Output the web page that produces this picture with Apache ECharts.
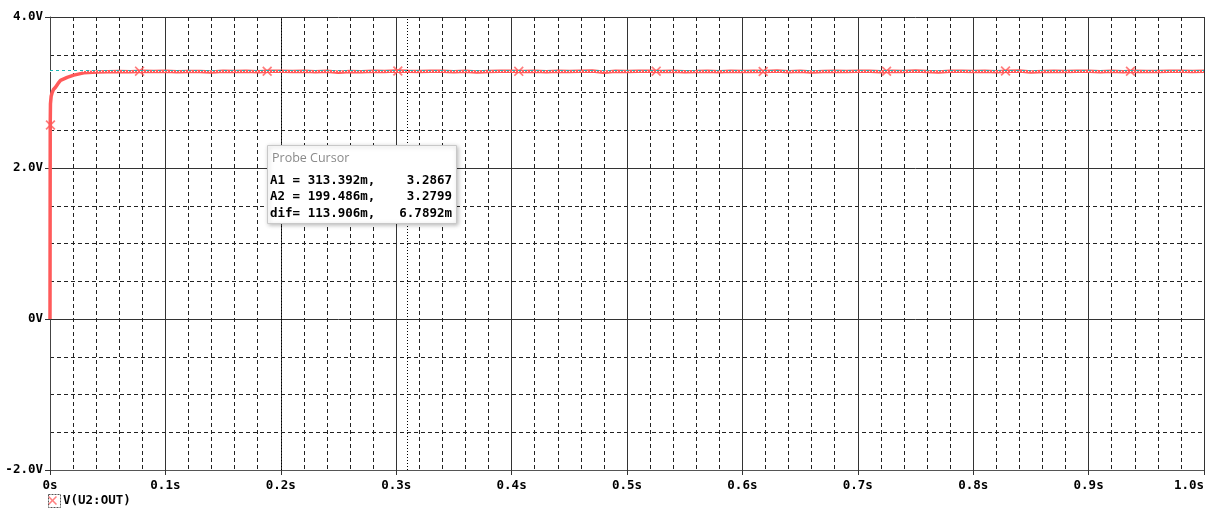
<!DOCTYPE html>
<html>
<head>
<meta charset="utf-8">
<script src="https://cdn.jsdelivr.net/npm/echarts@6/dist/echarts.min.js"></script>
<style>
html,body{margin:0;padding:0;background:#fff;}
#chart{width:1216px;height:513px;}
</style>
</head>
<body>
<div id="chart"></div>
<script>
// ---- data ----
var seriesName = 'V(U2:OUT)';
var startTimes  = [0, 0.0002, 0.0004, 0.001, 0.0019, 0.003, 0.0048, 0.007, 0.0091, 0.012, 0.0149, 0.0206, 0.0293, 0.041];
var startValues = [0, 2.57, 2.85, 2.95, 3.00, 3.04, 3.07, 3.12, 3.16, 3.18, 3.20, 3.23, 3.26, 3.27];
var steadyTimes = [0.05, 0.06, 0.07, 0.08, 0.09, 0.10, 0.11, 0.12, 0.13, 0.14, 0.15, 0.16, 0.17, 0.18, 0.19, 0.20, 0.21, 0.22, 0.23, 0.24, 0.25,
                   0.26, 0.27, 0.28, 0.29, 0.30, 0.31, 0.32, 0.33, 0.34, 0.35, 0.36, 0.37, 0.38, 0.39, 0.40, 0.41, 0.42, 0.43, 0.44, 0.45,
                   0.46, 0.47, 0.48, 0.49, 0.50, 0.51, 0.52, 0.53, 0.54, 0.55, 0.56, 0.57, 0.58, 0.59, 0.60, 0.61, 0.62, 0.63, 0.64, 0.65,
                   0.66, 0.67, 0.68, 0.69, 0.70, 0.71, 0.72, 0.73, 0.74, 0.75, 0.76, 0.77, 0.78, 0.79, 0.80, 0.81, 0.82, 0.83, 0.84, 0.85,
                   0.86, 0.87, 0.88, 0.89, 0.90, 0.91, 0.92, 0.93, 0.94, 0.95, 0.96, 0.97, 0.98, 0.99, 1.00];
var steadyValues = [3.274, 3.278, 3.276, 3.283, 3.279, 3.281, 3.274, 3.279, 3.277, 3.270, 3.281, 3.277, 3.283, 3.276, 3.280, 3.282, 3.279, 3.283, 3.276, 3.281, 3.269,
                    3.279, 3.275, 3.282, 3.278, 3.284, 3.280, 3.277, 3.281, 3.283, 3.276, 3.280, 3.271, 3.279, 3.282, 3.281, 3.277, 3.283, 3.275, 3.280, 3.278,
                    3.281, 3.284, 3.268, 3.280, 3.279, 3.282, 3.283, 3.277, 3.281, 3.276, 3.279, 3.283, 3.274, 3.280, 3.277, 3.282, 3.279, 3.284, 3.276, 3.281,
                    3.272, 3.279, 3.282, 3.277, 3.280, 3.283, 3.276, 3.281, 3.279, 3.284, 3.278, 3.273, 3.280, 3.282, 3.279, 3.283, 3.276, 3.281, 3.284, 3.270,
                    3.279, 3.282, 3.277, 3.281, 3.283, 3.276, 3.280, 3.274, 3.282, 3.279, 3.277, 3.281, 3.283, 3.278, 3.281];
var markerTimes  = [0.0004, 0.0776, 0.1882, 0.3014, 0.4062, 0.5253, 0.6180, 0.7249, 0.8280, 0.9363];
var markerValues = [2.57, 3.283, 3.282, 3.284, 3.280, 3.283, 3.279, 3.281, 3.284, 3.282];
var xTickValues = [0, 0.1, 0.2, 0.3, 0.4, 0.5, 0.6, 0.7, 0.8, 0.9, 1.0];
var xTickLabels = ['0s', '0.1s', '0.2s', '0.3s', '0.4s', '0.5s', '0.6s', '0.7s', '0.8s', '0.9s', '1.0s'];
var yTickValues = [-2, 0, 2, 4];
var yTickLabels = ['-2.0V', '0V', '2.0V', '4.0V'];
var cursorA1 = [0.313392, 3.2867];
var cursorA2 = [0.199486, 3.2799];
var probeTitle = 'Probe Cursor';
var probeRows = [
  ['A1 = 313.392m,', '3.2867'],
  ['A2 = 199.486m,', '3.2799'],
  ['dif= 113.906m,', '6.7892m']
];

// ---- build ----
var traceData = [];
for (var i = 0; i < startTimes.length; i++) traceData.push([startTimes[i], startValues[i]]);
for (var j = 0; j < steadyTimes.length; j++) traceData.push([steadyTimes[j], steadyValues[j]]);
var markerData = markerTimes.map(function (t, k) { return [t, markerValues[k]]; });

function lookup(vals, labels, v) {
  for (var i = 0; i < vals.length; i++) if (Math.abs(vals[i] - v) < 1e-6) return labels[i];
  return '';
}

var mono = "'DejaVu Sans Mono', 'Liberation Mono', monospace";
var red = '#ff5a5a';
var xPath = 'path://M0,1.2L1.2,0L5,3.8L8.8,0L10,1.2L6.2,5L10,8.8L8.8,10L5,6.2L1.2,10L0,8.8L3.8,5Z';

var chart = echarts.init(document.getElementById('chart'));
var probeGraphics = [
  { type: 'rect', left: 267, top: 145, shape: { width: 189, height: 78 },
    style: { fill: '#fff', stroke: '#c8c8c8', lineWidth: 1, shadowBlur: 4, shadowColor: 'rgba(0,0,0,0.25)', shadowOffsetX: 1, shadowOffsetY: 1 }, z: 100 },
  { type: 'text', left: 272, top: 152, z: 101,
    style: { text: probeTitle, fill: '#8a8a8a', font: "12.5px 'Open Sans', 'Noto Sans', sans-serif" } }
];
probeRows.forEach(function (r, k) {
  probeGraphics.push({ type: 'text', left: 270, top: 174 + k * 16.5, z: 101,
    style: { text: r[0], fill: '#000', font: 'bold 12.5px ' + mono } });
  probeGraphics.push({ type: 'text', right: 1216 - 452, top: 174 + k * 16.5, z: 101,
    style: { text: r[1], fill: '#000', font: 'bold 12.5px ' + mono, textAlign: 'right' } });
});
probeGraphics.push({ type: 'rect', left: 46, top: 492, shape: { width: 12, height: 13 },
  style: { fill: 'none', stroke: '#555', lineWidth: 1, lineDash: [2, 1] }, z: 50 });

var option = {
  animation: false,
  backgroundColor: '#fff',
  grid: { left: 50, right: 12, top: 17, bottom: 43, show: false, outerBoundsMode: 'none', containLabel: false },
  legend: {
    data: [{ name: seriesName, icon: xPath }],
    left: 48, top: 494, padding: 0, itemWidth: 9, itemHeight: 9, itemGap: 5,
    textStyle: { fontFamily: mono, fontWeight: 'bold', fontSize: 12.5, color: '#000', padding: [0, 0, 0, 1] },
    itemStyle: { color: '#ff8080' }
  },
  xAxis: {
    type: 'value', min: 0, max: 1, interval: 0.1,
    axisLine: { show: true, onZero: false, lineStyle: { color: '#555', width: 1 } },
    axisTick: { show: true, length: 5, lineStyle: { color: '#333' } },
    axisLabel: { margin: 9, color: '#000', fontFamily: mono, fontWeight: 'bold', fontSize: 12.5,
      alignMaxLabel: 'right',
      formatter: function (v) { return lookup(xTickValues, xTickLabels, v); } },
    splitLine: { show: true, lineStyle: { color: '#333', width: 1 } },
    minorTick: { show: false, splitNumber: 5 },
    minorSplitLine: { show: true, lineStyle: { color: '#222', type: [4, 3], width: 1 } }
  },
  yAxis: {
    type: 'value', min: -2, max: 4, interval: 2,
    axisLine: { show: true, onZero: false, lineStyle: { color: '#444', width: 1 } },
    axisTick: { show: true, length: 5, lineStyle: { color: '#333' } },
    axisLabel: { margin: 7, color: '#000', fontFamily: mono, fontWeight: 'bold', fontSize: 12.5,
      formatter: function (v) { return lookup(yTickValues, yTickLabels, v); } },
    splitLine: { show: true, lineStyle: { color: '#333', width: 1 } },
    minorTick: { show: false, splitNumber: 4 },
    minorSplitLine: { show: true, lineStyle: { color: '#222', type: [4, 3], width: 1 } }
  },
  graphic: probeGraphics,
  series: [
    {
      name: seriesName, type: 'line', data: traceData, showSymbol: false, symbol: 'none',
      lineStyle: { color: red, width: 3.5 }, itemStyle: { color: red }, z: 3
    },
    {
      name: 'markers', type: 'scatter', data: markerData, symbol: xPath, symbolSize: 10,
      itemStyle: { color: red }, z: 4, silent: true,
      markLine: {
        silent: true, symbol: 'none', label: { show: false },
        data: [
          { xAxis: cursorA1[0], lineStyle: { color: '#000', type: [1, 2], width: 1 } },
          { xAxis: cursorA2[0], lineStyle: { color: '#000', type: [1, 2], width: 1 } },
          { yAxis: cursorA2[1], lineStyle: { color: '#ffffff', type: [1, 2], width: 1 } },
          { yAxis: cursorA1[1], lineStyle: { color: '#1fb5b5', type: [3, 3], width: 1 } }
        ]
      }
    }
  ]
};
chart.setOption(option);
</script>
</body>
</html>
